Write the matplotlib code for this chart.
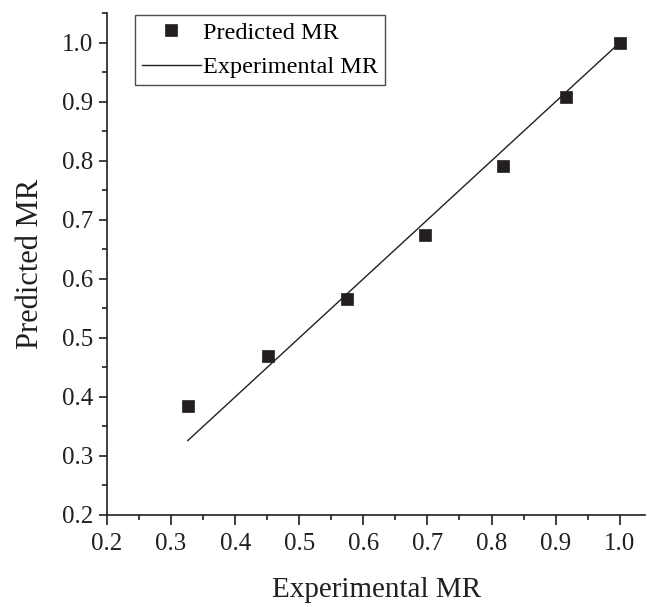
import matplotlib
matplotlib.use("Agg")
import matplotlib.pyplot as plt
from matplotlib.ticker import MultipleLocator, FormatStrFormatter

plt.rcParams['font.family'] = ['Liberation Serif', 'DejaVu Serif']

exp_mr = [0.326, 0.451, 0.574, 0.696, 0.818, 0.916, 1.0]
pred_mr = [0.384, 0.469, 0.566, 0.675, 0.791, 0.908, 1.0]

fig = plt.figure(figsize=(6.47, 6.07), dpi=100)
ax = fig.add_axes([0.1654, 0.1516, 0.832, 0.8267])

ax.plot(exp_mr, pred_mr, 's', color='#231f20', markersize=8.5, markeredgewidth=0.5,
        label='Predicted MR', zorder=3)
ax.plot([exp_mr[0], exp_mr[-1]], [exp_mr[0], exp_mr[-1]], '-', color='#231f20', lw=1.0,
        label='Experimental MR')

ax.set_xlim(0.2, 1.04)
ax.set_ylim(0.2, 1.05)
ax.xaxis.set_major_locator(MultipleLocator(0.1))
ax.xaxis.set_minor_locator(MultipleLocator(0.05))
ax.yaxis.set_major_locator(MultipleLocator(0.1))
ax.yaxis.set_minor_locator(MultipleLocator(0.05))
ax.xaxis.set_major_formatter(FormatStrFormatter('%.1f'))
ax.yaxis.set_major_formatter(FormatStrFormatter('%.1f'))
ax.tick_params(which='major', direction='out', length=7, width=1.2, labelsize=18,
               colors='#231f20')
ax.tick_params(axis='x', which='major', pad=6)
ax.tick_params(axis='y', which='major', length=6, pad=4)
ax.tick_params(which='minor', direction='out', length=3.5, width=1.2, colors='#231f20')
for s in ['top', 'right']:
    ax.spines[s].set_visible(False)
for s in ['left', 'bottom']:
    ax.spines[s].set_linewidth(1.2)
    ax.spines[s].set_color('#231f20')

ax.set_xlabel('Experimental MR', fontsize=21, labelpad=16, color='#231f20')
ax.set_ylabel('Predicted MR', fontsize=22, labelpad=12, color='#231f20')

leg = ax.legend(loc='upper left', bbox_to_anchor=(0.052, 0.997), fontsize=17.5, frameon=True,
                fancybox=False, edgecolor='#231f20', handlelength=2.4, handletextpad=0.1,
                borderpad=0.3, labelspacing=0.5, borderaxespad=0)
leg.get_frame().set_linewidth(1.0)

fig.savefig('out.png', dpi=100)
